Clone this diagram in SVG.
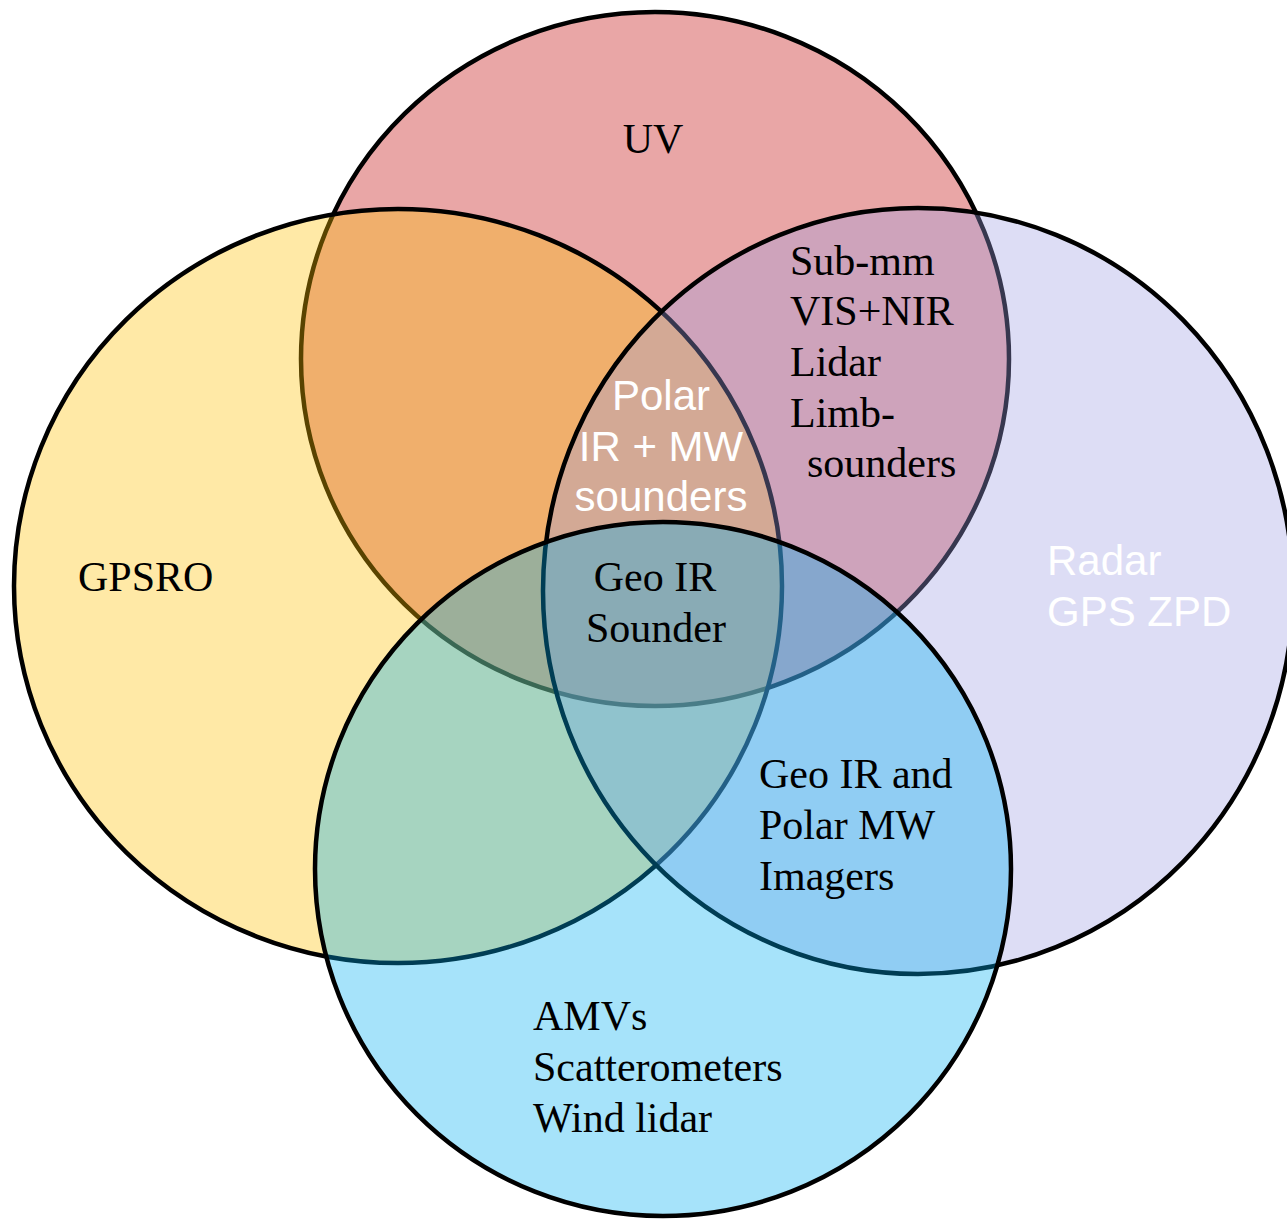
<svg xmlns="http://www.w3.org/2000/svg" width="1287" height="1220" viewBox="0 0 1287 1220">
<style>
.c{stroke:#000;stroke-width:4.5;fill-opacity:0.35}
.s{font-family:"Liberation Serif","Times New Roman",serif;font-size:42px;fill:#000}
.w{font-family:"Liberation Sans",Arial,sans-serif;font-size:42px;fill:#fff}
</style>
<rect width="1287" height="1220" fill="#fff"/>
<g id="uv">
<ellipse class="c" cx="655" cy="359" rx="354" ry="347" fill="#C00000"/>
</g>
<g id="gpsro">
<ellipse class="c" cx="398" cy="586" rx="384" ry="377" fill="#FFC000"/>
</g>
<g id="radar">
<ellipse class="c" cx="918" cy="591" rx="375" ry="383" fill="#9E9EE2"/>
</g>
<g id="amv">
<ellipse class="c" cx="663" cy="869" rx="348" ry="347" fill="#00B0F0"/>
</g>
<g id="labels">
<text class="s" x="653" y="153" text-anchor="middle">UV</text>
<text class="s" x="78" y="591">GPSRO</text>
<text class="s" x="790" y="275">Sub-mm</text>
<text class="s" x="790" y="325">VIS+NIR</text>
<text class="s" x="790" y="376">Lidar</text>
<text class="s" x="790" y="427">Limb-</text>
<text class="s" x="807" y="477">sounders</text>
<text class="w" x="661" y="410" text-anchor="middle">Polar</text>
<text class="w" x="661" y="461" text-anchor="middle">IR + MW</text>
<text class="w" x="661" y="511" text-anchor="middle">sounders</text>
<text class="s" x="655" y="591" text-anchor="middle">Geo IR</text>
<text class="s" x="656" y="642" text-anchor="middle">Sounder</text>
<text class="w" x="1047" y="575">Radar</text>
<text class="w" x="1047" y="626">GPS ZPD</text>
<text class="s" x="759" y="788">Geo IR and</text>
<text class="s" x="759" y="839">Polar MW</text>
<text class="s" x="759" y="890">Imagers</text>
<text class="s" x="533" y="1030">AMVs</text>
<text class="s" x="533" y="1081">Scatterometers</text>
<text class="s" x="533" y="1132">Wind lidar</text>
</g>
</svg>
